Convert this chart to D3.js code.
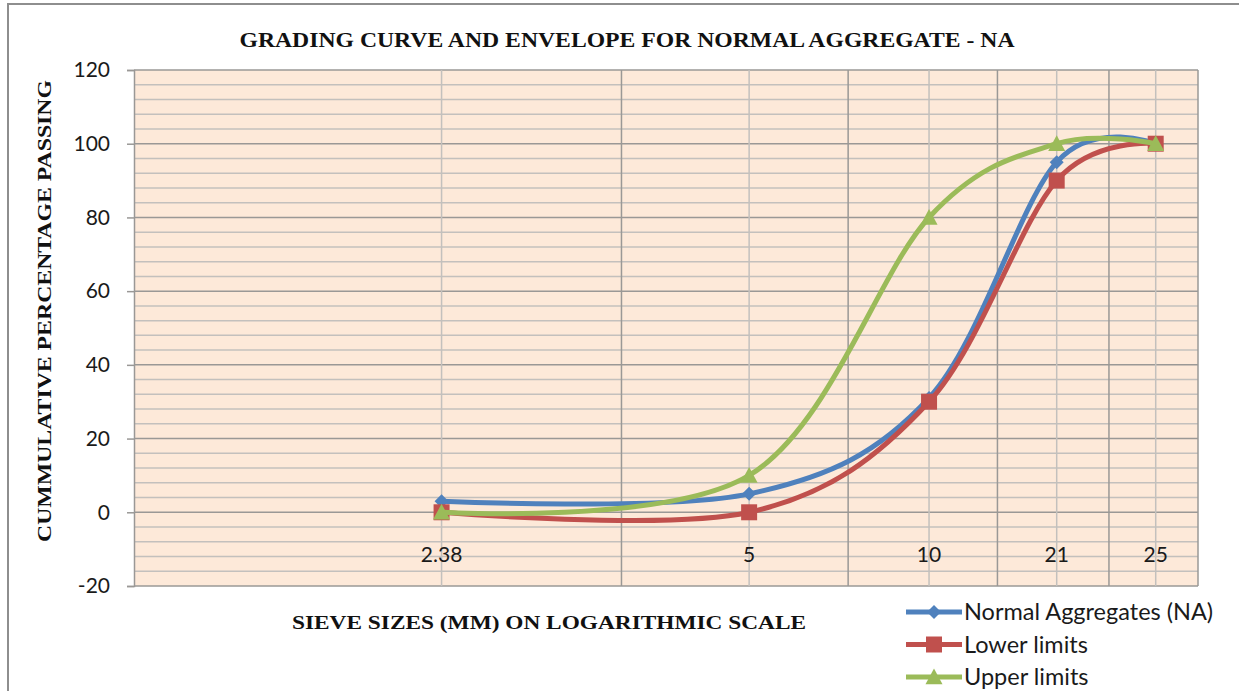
<!DOCTYPE html>
<html>
<head>
<meta charset="utf-8">
<script src="https://cdn.jsdelivr.net/npm/d3@7"></script>
<style>
  html, body { margin: 0; padding: 0; background: #ffffff; }
  svg { display: block; }
</style>
</head>
<body>
<svg id="chart" width="1239" height="691"></svg>
<script>
// Sieve sizes (mm) shown along the horizontal axis
const sieveLabels = ["2.38", "5", "10", "21", "25"];
// Position of each sieve on the logarithmic plotting axis
const sievePos = [2, 4, 6, 8, 10];

// Cumulative percentage passing
const normalAggregates = [3, 5, 31, 95, 100];
const lowerLimits = [0, 0, 30, 90, 100];
const upperLimits = [0, 10, 80, 100, 100];

const yTicks = [-20, 0, 20, 40, 60, 80, 100, 120];
const yMinorTicks = d3.range(-20, 121, 4);
const xGridLight = [2, 4, 6, 8, 10];
const xGridDark = [3, 5, 7, 9];

const series = [
  { name: "Normal Aggregates (NA)", values: normalAggregates, color: "#4f81bd", marker: "diamond" },
  { name: "Lower limits", values: lowerLimits, color: "#c0504d", marker: "square" },
  { name: "Upper limits", values: upperLimits, color: "#9bbb59", marker: "triangle" }
];

const svg = d3.select("#chart");
const plot = { left: 134, right: 1198, top: 70, bottom: 586 };
const sans = "Lato, 'Open Sans', sans-serif";
const serif = "'Liberation Serif', 'Times New Roman', serif";

const x = d3.scaleLog().domain([1, 11]).range([plot.left, plot.right]);
const y = d3.scaleLinear().domain([-20, 120]).range([plot.bottom, plot.top]);

// outer chart frame
svg.append("rect")
  .attr("x", 8).attr("y", 4).attr("width", 1260).attr("height", 720)
  .attr("fill", "#ffffff").attr("stroke", "#8e8e8e").attr("stroke-width", 2);

// plot background
svg.append("rect")
  .attr("x", plot.left).attr("y", plot.top)
  .attr("width", plot.right - plot.left).attr("height", plot.bottom - plot.top)
  .attr("fill", "#fde9d9");

const grid = svg.append("g");
// minor horizontal gridlines
grid.selectAll("line.hmin").data(yMinorTicks.filter(v => v % 20 !== 0)).join("line")
  .attr("x1", plot.left).attr("x2", plot.right)
  .attr("y1", d => y(d)).attr("y2", d => y(d))
  .attr("stroke", "#c3c0bd").attr("stroke-width", 1.5);
// major horizontal gridlines
grid.selectAll("line.hmaj").data(yTicks).join("line")
  .attr("x1", plot.left).attr("x2", plot.right)
  .attr("y1", d => y(d)).attr("y2", d => y(d))
  .attr("stroke", "#9a9896").attr("stroke-width", 1.5);
// vertical gridlines
grid.selectAll("line.vl").data(xGridLight).join("line")
  .attr("x1", d => x(d)).attr("x2", d => x(d))
  .attr("y1", plot.top).attr("y2", plot.bottom)
  .attr("stroke", "#c3c0bd").attr("stroke-width", 1.5);
grid.selectAll("line.vd").data(xGridDark).join("line")
  .attr("x1", d => x(d)).attr("x2", d => x(d))
  .attr("y1", plot.top).attr("y2", plot.bottom)
  .attr("stroke", "#9a9896").attr("stroke-width", 1.5);

// plot border (right)
svg.append("line")
  .attr("x1", plot.right).attr("x2", plot.right)
  .attr("y1", plot.top).attr("y2", plot.bottom)
  .attr("stroke", "#9a9896").attr("stroke-width", 1.5);

// y axis
const yAxis = d3.axisLeft(y).tickValues(yTicks).tickSize(7).tickPadding(17)
  .tickFormat(d => String(d));
const ya = svg.append("g").attr("transform", `translate(${plot.left},0)`).call(yAxis);
ya.select(".domain").attr("stroke", "#9a9896").attr("stroke-width", 1.5);
ya.selectAll(".tick line").attr("stroke", "#9a9896").attr("stroke-width", 1.5);
ya.selectAll(".tick text")
  .attr("font-family", sans)
  .attr("font-size", 21).attr("fill", "#1a1a1a");

// sieve size labels just below the zero line
svg.append("g").selectAll("text").data(sievePos).join("text")
  .attr("x", d => x(d)).attr("y", y(0) + 50)
  .attr("text-anchor", "middle")
  .attr("font-family", sans)
  .attr("font-size", 21).attr("fill", "#1a1a1a")
  .text((d, i) => sieveLabels[i]);

// marker shapes
function markerPath(type, cx, cy) {
  if (type === "diamond") {
    const r = 7;
    return `M${cx},${cy - r}L${cx + r},${cy}L${cx},${cy + r}L${cx - r},${cy}Z`;
  }
  if (type === "square") {
    const h = 8;
    return `M${cx - h},${cy - h}H${cx + h}V${cy + h}H${cx - h}Z`;
  }
  const h = 8.5;
  return `M${cx},${cy - h}L${cx + h},${cy + h * 0.85}L${cx - h},${cy + h * 0.85}Z`;
}

const line = d3.line()
  .x(d => x(d[0])).y(d => y(d[1]))
  .curve(d3.curveCardinal.tension(0));

series.forEach(s => {
  const pts = sievePos.map((p, i) => [p, s.values[i]]);
  const g = svg.append("g");
  g.append("path")
    .attr("d", line(pts))
    .attr("fill", "none").attr("stroke", s.color)
    .attr("stroke-width", 5).attr("stroke-linejoin", "round").attr("stroke-linecap", "round");
  g.selectAll("path.m").data(pts).join("path")
    .attr("d", d => markerPath(s.marker, x(d[0]), y(d[1])))
    .attr("fill", s.color);
});

// titles
svg.append("text")
  .attr("x", 627).attr("y", 47).attr("text-anchor", "middle")
  .attr("font-family", serif)
  .attr("font-weight", "bold").attr("font-size", 20).attr("fill", "#111")
  .attr("textLength", 775).attr("lengthAdjust", "spacingAndGlyphs")
  .text("GRADING CURVE AND ENVELOPE FOR NORMAL AGGREGATE - NA");

svg.append("text")
  .attr("transform", "translate(51,311) rotate(-90)")
  .attr("text-anchor", "middle")
  .attr("font-family", serif)
  .attr("font-weight", "bold").attr("font-size", 19).attr("fill", "#111")
  .attr("textLength", 462).attr("lengthAdjust", "spacingAndGlyphs")
  .text("CUMMULATIVE PERCENTAGE PASSING");

svg.append("text")
  .attr("x", 549).attr("y", 629).attr("text-anchor", "middle")
  .attr("font-family", serif)
  .attr("font-weight", "bold").attr("font-size", 19).attr("fill", "#111")
  .attr("textLength", 514).attr("lengthAdjust", "spacingAndGlyphs")
  .text("SIEVE SIZES (MM) ON LOGARITHMIC SCALE");

// legend
const legend = svg.append("g");
series.forEach((s, i) => {
  const ly = 612 + i * 32.5;
  legend.append("line")
    .attr("x1", 906).attr("x2", 962).attr("y1", ly).attr("y2", ly)
    .attr("stroke", s.color).attr("stroke-width", 5);
  legend.append("path").attr("d", markerPath(s.marker, 934, ly)).attr("fill", s.color);
  legend.append("text")
    .attr("x", 964).attr("y", ly + 8)
    .attr("font-family", sans)
    .attr("font-size", 23.5).attr("fill", "#1a1a1a")
    .text(s.name);
});
</script>
</body>
</html>
